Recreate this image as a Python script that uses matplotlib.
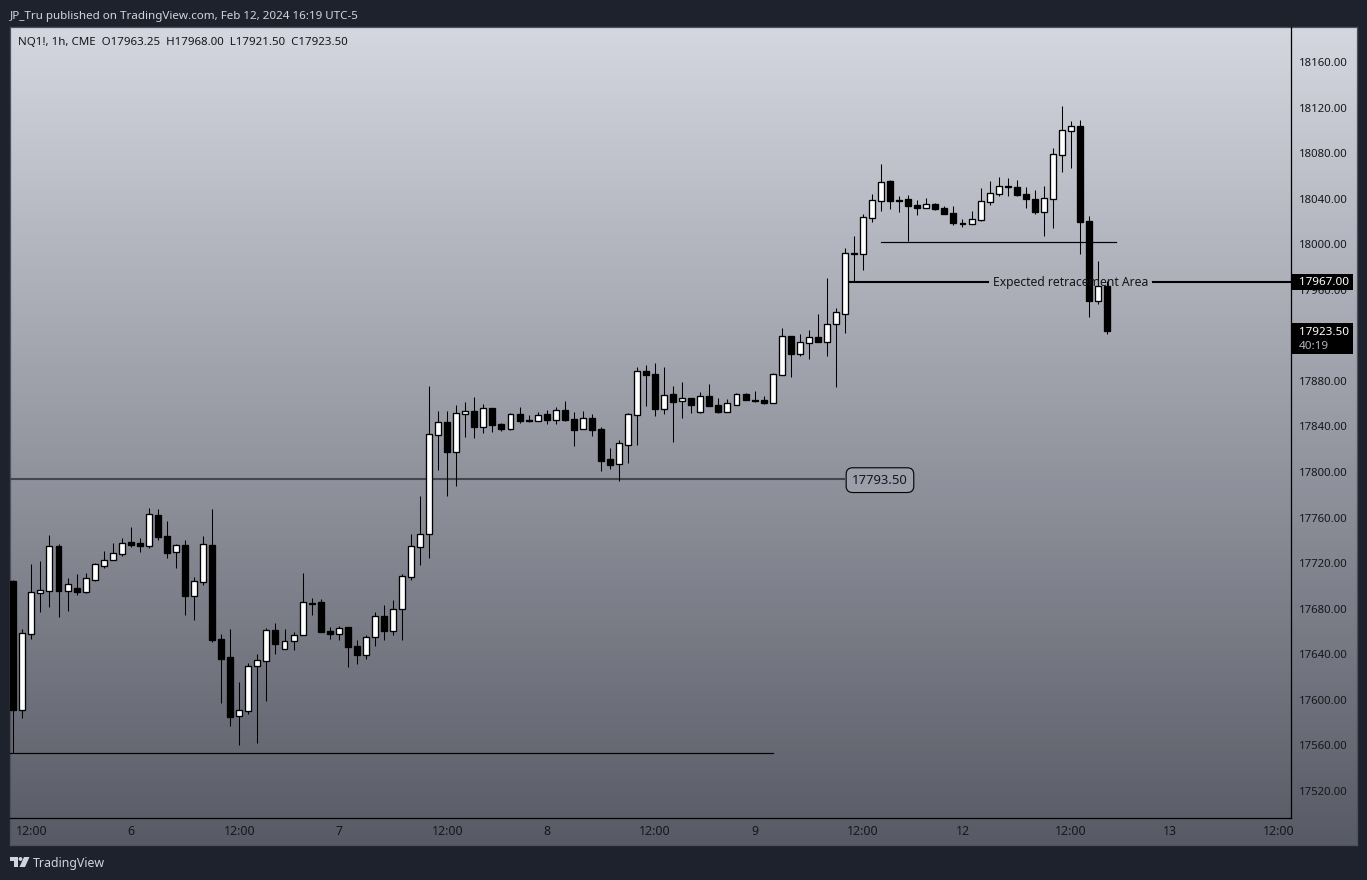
import numpy as np
import matplotlib
matplotlib.use("Agg")
import matplotlib.pyplot as plt
from matplotlib.patches import Rectangle, Polygon, Circle

plt.rcParams["font.family"] = ["Noto Sans", "DejaVu Sans"]

opens = [
    17704.3, 17591.1, 17658.1, 17694.1, 17695.9, 17735.1, 17695.9, 17698.2, 17695.0, 17705.2,
    17717.5, 17723.1, 17728.3, 17738.6, 17737.7, 17735.4, 17762.3, 17743.8, 17730.1, 17735.9,
    17691.2, 17703.8, 17735.9, 17653.4, 17637.6, 17586.1, 17590.5, 17630.0, 17634.4, 17661.3,
    17644.9, 17652.0, 17657.2, 17685.0, 17685.9, 17660.5, 17658.1, 17664.0, 17647.3, 17639.7,
    17655.5, 17673.6, 17660.7, 17680.1, 17708.1, 17734.5, 17745.3, 17832.9, 17844.0, 17818.0,
    17851.3, 17853.7, 17839.9, 17856.3, 17842.2, 17838.1, 17851.0, 17845.8, 17845.2, 17851.0,
    17846.0, 17854.5, 17846.6, 17838.1, 17847.5, 17837.9, 17811.5, 17807.4, 17824.1, 17850.1,
    17888.7, 17886.1, 17855.6, 17868.5, 17862.4, 17865.0, 17852.7, 17866.8, 17858.9, 17853.0,
    17859.1, 17868.5, 17863.2, 17863.2, 17860.9, 17885.5, 17919.4, 17903.9, 17913.6, 17918.5,
    17914.4, 17930.2, 17939.0, 17992.3, 17991.7, 18023.3, 18038.2, 18055.5, 18038.8, 18039.7,
    18034.4, 18032.1, 18035.3, 18031.8, 18027.4, 18018.9, 18018.0, 18021.5, 18037.4, 18044.4,
    18051.1, 18050.2, 18044.1, 18039.7, 18028.6, 18040.0, 18078.6, 18099.7, 18103.8, 18020.4,
    17950.5, 17963.25,
]
highs = [
    17705.2, 17662.2, 17719.3, 17721.9, 17744.4, 17736.5, 17707.0, 17710.5, 17711.4, 17719.8,
    17730.7, 17737.7, 17741.8, 17751.7, 17742.1, 17768.4, 17767.5, 17757.0, 17736.8, 17740.3,
    17707.9, 17743.8, 17767.5, 17657.8, 17662.2, 17615.7, 17632.4, 17640.3, 17663.1, 17667.5,
    17662.2, 17659.6, 17711.4, 17689.4, 17688.5, 17664.0, 17664.8, 17664.0, 17652.6, 17657.0,
    17677.1, 17683.3, 17687.7, 17710.2, 17745.6, 17779.0, 17875.6, 17853.7, 17853.7, 17858.9,
    17861.6, 17865.9, 17859.8, 17856.3, 17843.1, 17851.9, 17857.2, 17850.1, 17852.8, 17854.5,
    17857.2, 17862.4, 17852.8, 17853.7, 17851.0, 17839.3, 17821.2, 17828.2, 17851.9, 17891.9,
    17894.0, 17895.7, 17892.2, 17875.5, 17879.0, 17865.0, 17870.3, 17877.3, 17865.0, 17864.1,
    17869.4, 17869.4, 17871.1, 17866.8, 17886.6, 17926.4, 17919.4, 17921.2, 17924.7, 17938.7,
    17970.4, 17944.0, 17996.7, 18007.2, 18026.5, 18044.1, 18070.4, 18056.4, 18042.3, 18043.2,
    18038.8, 18040.6, 18036.2, 18033.5, 18033.5, 18022.1, 18029.2, 18049.3, 18055.5, 18059.0,
    18058.1, 18056.4, 18050.2, 18047.6, 18051.1, 18084.5, 18121.3, 18108.2, 18109.0, 18024.8,
    17985.3, 17968.0,
]
lows = [
    17553.1, 17584.1, 17653.4, 17677.1, 17681.5, 17672.7, 17678.0, 17692.1, 17693.8, 17704.3,
    17715.8, 17722.8, 17726.3, 17734.2, 17729.8, 17733.3, 17740.3, 17724.5, 17715.8, 17674.5,
    17670.1, 17700.8, 17650.8, 17597.3, 17577.1, 17560.4, 17587.6, 17562.1, 17599.0, 17640.3,
    17644.9, 17643.8, 17657.2, 17674.5, 17659.6, 17653.4, 17652.6, 17628.9, 17631.5, 17635.9,
    17647.3, 17652.6, 17657.0, 17652.6, 17705.2, 17718.4, 17724.5, 17801.9, 17779.0, 17787.8,
    17830.8, 17830.0, 17834.3, 17835.2, 17836.1, 17837.0, 17843.1, 17844.0, 17844.9, 17842.2,
    17842.2, 17844.9, 17822.9, 17837.9, 17831.7, 17801.0, 17802.7, 17792.2, 17808.0, 17823.8,
    17858.0, 17849.2, 17851.0, 17826.4, 17847.4, 17851.8, 17851.8, 17858.0, 17851.8, 17852.7,
    17858.9, 17863.2, 17861.5, 17859.7, 17860.6, 17885.2, 17883.4, 17901.9, 17899.2, 17914.2,
    17901.9, 17874.7, 17922.1, 17967.1, 17977.4, 18019.5, 18029.2, 18030.9, 18028.3, 18003.1,
    18025.6, 18031.8, 18030.0, 18026.5, 18016.9, 18015.1, 18017.7, 18020.4, 18034.4, 18042.3,
    18042.3, 18042.3, 18031.8, 18026.5, 18007.2, 18014.2, 18063.4, 18066.9, 17991.4, 17936.1,
    17947.5, 17921.5,
]
closes = [
    17591.1, 17658.4, 17694.4, 17696.1, 17734.8, 17695.9, 17701.4, 17694.7, 17706.7, 17719.0,
    17722.5, 17728.6, 17737.4, 17735.9, 17735.1, 17762.9, 17743.0, 17728.9, 17735.6, 17691.2,
    17704.0, 17736.5, 17652.6, 17635.9, 17585.0, 17590.8, 17629.4, 17634.7, 17661.0, 17649.0,
    17651.4, 17656.6, 17685.6, 17684.2, 17659.6, 17657.8, 17662.8, 17646.4, 17639.4, 17654.9,
    17673.6, 17660.5, 17679.5, 17708.4, 17734.8, 17745.3, 17833.2, 17843.7, 17817.7, 17851.6,
    17853.7, 17839.6, 17856.0, 17841.4, 17837.9, 17850.7, 17844.9, 17844.9, 17849.8, 17845.8,
    17854.2, 17845.8, 17837.0, 17847.2, 17837.0, 17809.8, 17806.3, 17825.3, 17850.7, 17888.4,
    17885.2, 17855.3, 17867.3, 17861.5, 17865.0, 17858.9, 17866.5, 17858.0, 17852.7, 17860.3,
    17868.2, 17863.2, 17862.4, 17860.6, 17885.8, 17919.1, 17903.6, 17913.9, 17918.3, 17914.2,
    17929.7, 17940.2, 17992.0, 17991.4, 18023.6, 18038.5, 18054.3, 18037.9, 18037.9, 18033.5,
    18031.8, 18035.0, 18030.9, 18026.5, 18018.6, 18018.0, 18021.8, 18037.6, 18044.7, 18050.8,
    18050.2, 18043.2, 18039.7, 18028.3, 18040.3, 18078.9, 18100.0, 18103.5, 18019.5, 17950.2,
    17963.0, 17923.5,
]

price_ticks = list(range(17520, 18161, 40))
time_ticks = [2, 13, 25, 36, 48, 59, 71, 82, 94, 105, 117, 128, 140]
time_labels = ["12:00", "6", "12:00", "7", "12:00", "8", "12:00", "9",
               "12:00", "12", "12:00", "13", "12:00"]

horizontal_price = 17793.5
lower_price = 17553.0
upper_price = 18002.0
retrace_price = 17967.0
last_price = 17923.5

W, H = 1367, 880
BG = "#1e222d"
TXT = "#16171c"


def box(left, top, right, bottom):
    return [left / W, 1 - bottom / H, (right - left) / W, (bottom - top) / H]


fig = plt.figure(figsize=(W / 100, H / 100), dpi=100, facecolor=BG)

# panel with the grey gradient behind chart and both axes
bg = fig.add_axes(box(10, 27, 1357, 845))
top_col = np.array([212, 214, 224]) / 255
bot_col = np.array([88, 90, 101]) / 255
t = np.linspace(0, 1, 256)[:, None, None]
bg.imshow(top_col * (1 - t) + bot_col * t, aspect="auto")
bg.set_xticks([])
bg.set_yticks([])
for s in bg.spines.values():
    s.set_color("#4f525d")
    s.set_linewidth(0.9)

ax = fig.add_axes(box(10, 27, 1291, 818))
ax.patch.set_alpha(0)
ax.set_xlim((10 - 13.3) / 9.04, (1291 - 13.3) / 9.04)
ax.set_ylim(17496.3, 18190.7)

x = np.arange(len(opens))
o = np.array(opens)
c = np.array(closes)
up = c >= o
ax.vlines(x, lows, highs, color="black", lw=0.75, zorder=3)
ax.bar(x, np.abs(c - o), bottom=np.minimum(o, c), width=0.66,
       color=np.where(up, "white", "black"), edgecolor="black", linewidth=0.95, zorder=4)

# drawings
ax.plot([-1, 92.0], [horizontal_price] * 2, color="#45464c", lw=1.5, zorder=2,
        solid_capstyle="butt")
ax.plot([-1, 84], [lower_price] * 2, color="black", lw=0.85, zorder=2)
ax.plot([96, 122], [upper_price] * 2, color="black", lw=0.85, zorder=2)
ax.plot([92, 107.8], [retrace_price] * 2, color="black", lw=1.5, zorder=2)
ax.plot([126.1, 142], [retrace_price] * 2, color="black", lw=1.5, zorder=2)
ax.annotate("Expected retracement Area", (117, retrace_price), xytext=(0, -0.7),
            textcoords="offset points", ha="center", va="center",
            fontsize=8.75, color=TXT, zorder=6)
ax.annotate("17793.50", (95.87, horizontal_price), xytext=(0, -0.5),
            textcoords="offset points", ha="center", va="center", fontsize=9.4, color=TXT,
            zorder=6, bbox=dict(boxstyle="round,pad=0.45,rounding_size=0.5", fc="#9c9ea9",
                                ec="black", lw=0.8))

ax.set_xticks(time_ticks)
ax.set_xticklabels(time_labels, fontsize=8.9, color=TXT)
ax.set_yticks(price_ticks)
ax.set_yticklabels([f"{p:.2f}" for p in price_ticks], fontsize=8.2, color=TXT)
ax.yaxis.tick_right()
ax.tick_params(axis="both", length=0)
ax.tick_params(axis="x", pad=5)
ax.tick_params(axis="y", pad=5.5)
for tick, lab in zip(ax.get_xticklabels(), time_labels):
    if lab == "12":
        tick.set_fontweight("bold")
for name in ("left", "top"):
    ax.spines[name].set_visible(False)
for name in ("right", "bottom"):
    ax.spines[name].set_color("black")
    ax.spines[name].set_linewidth(0.9)

# price tags on the axis
trans = ax.get_yaxis_transform()
ax.add_patch(Rectangle((1.0008, retrace_price - 7), 0.0475, 14, transform=trans, fc="black",
                       ec="none", clip_on=False, zorder=7))
ax.text(1.0062, retrace_price - 0.8, f"{retrace_price:.2f}", transform=trans, va="center",
        ha="left", fontsize=8.4, fontweight="bold", color="white", zorder=8, clip_on=False)
ax.add_patch(Rectangle((1.0008, last_price - 20), 0.0475, 27, transform=trans, fc="black",
                       ec="none", clip_on=False, zorder=7))
ax.text(1.0062, last_price - 1, f"{last_price:.2f}", transform=trans, va="center", ha="left",
        fontsize=8.4, fontweight="bold", color="white", zorder=8, clip_on=False)
ax.text(1.0062, last_price - 13.5, "40:19", transform=trans, va="center", ha="left",
        fontsize=8.4, color="#b0b2ba", zorder=8, clip_on=False)

# header, legend and footer in pixel positions
fig.text(10 / W, 1 - 16.5 / H, "JP_Tru published on TradingView.com, Feb 12, 2024 16:19 UTC-5",
         fontsize=8.37, color="#d1d4dc", va="center")
fig.text(18 / W, 1 - 42.5 / H, "NQ1!, 1h, CME  O17963.25  H17968.00  L17921.50  C17923.50",
         fontsize=8.28, color=TXT, va="center")
fig.text(33 / W, 1 - 863 / H, "TradingView", fontsize=8.9, color="#d1d4dc", va="center")

over = fig.add_axes([0, 0, 1, 1])
over.set_xlim(0, W)
over.set_ylim(H, 0)
over.axis("off")
over.patch.set_alpha(0)
over.add_patch(Polygon([(10, 857), (18, 857), (18, 867), (14, 867), (14, 861), (10, 861)],
                       fc="#d1d4dc", ec="none"))
over.add_patch(Circle((20.5, 859), 1.9, fc="#d1d4dc", ec="none"))
over.add_patch(Polygon([(24, 857), (29.5, 857), (25, 867), (19.5, 867)], fc="#d1d4dc", ec="none"))

fig.savefig("out.png", dpi=100, facecolor=BG)
